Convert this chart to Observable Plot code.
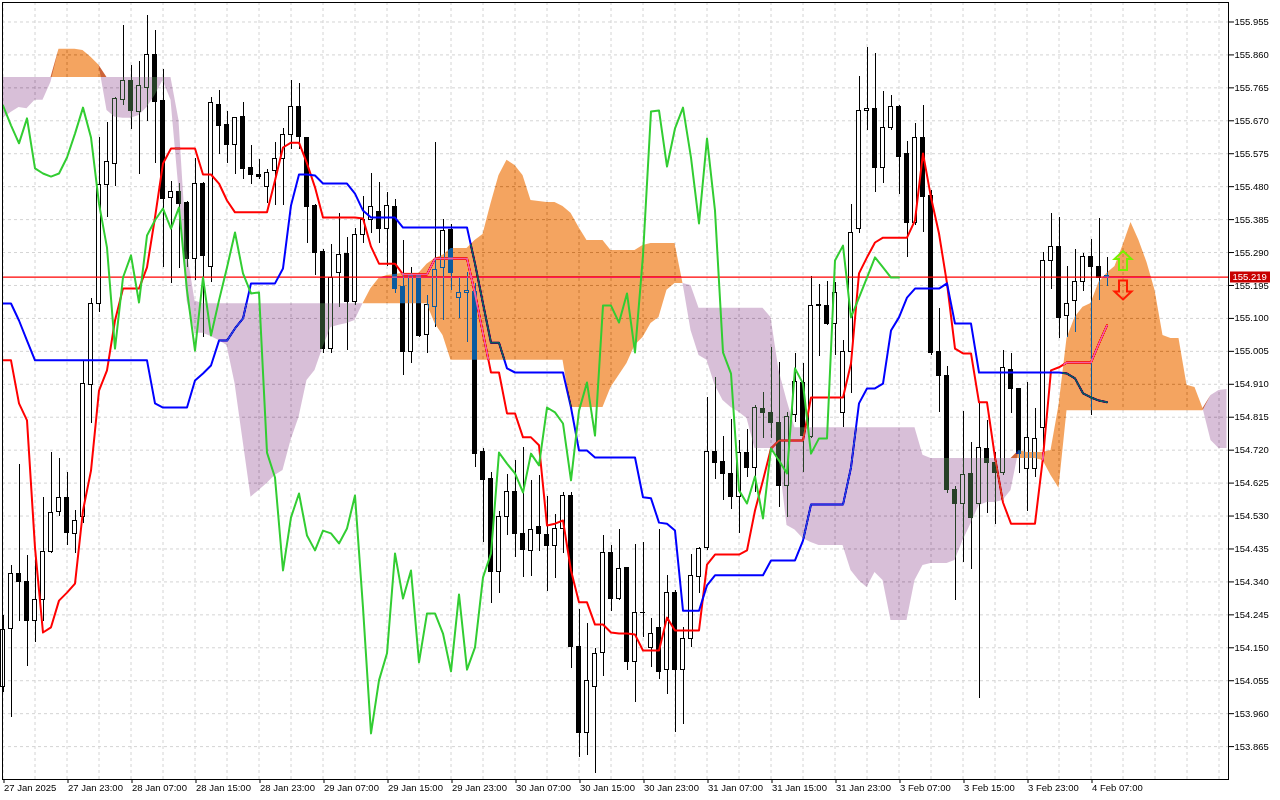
<!DOCTYPE html>
<html><head><meta charset="utf-8">
<script src="https://cdn.jsdelivr.net/npm/d3@7"></script>
<script src="https://cdn.jsdelivr.net/npm/@observablehq/plot@0.6"></script>
<style>
html,body{margin:0;padding:0;background:#fff;}
#chart svg{display:block;}
</style>
</head><body><div id="chart"></div>
<script>
// H1 candles (bar index 0 = 27 Jan 2025 15:00)
const open = [154.036,154.203,154.364,154.341,154.226,154.289,154.425,154.543,154.581,154.479,
154.526,154.907,155.143,155.484,155.544,155.731,155.786,155.694,155.766,155.861,
155.726,155.446,155.466,155.434,155.270,155.489,155.247,155.715,155.657,155.599,
155.680,155.533,155.515,155.478,155.524,155.559,155.628,155.711,155.619,155.423,
155.293,155.013,155.230,155.287,155.146,155.342,155.385,155.408,155.359,155.420,
155.192,155.004,155.221,155.051,155.132,155.244,155.354,155.158,155.172,155.175,
154.716,154.638,154.370,154.526,154.598,154.479,154.428,154.497,154.474,154.445,
154.494,154.589,154.151,153.903,154.036,154.134,154.422,154.292,154.379,154.108,
154.249,154.148,154.206,154.087,154.307,154.087,154.174,154.353,154.437,154.716,
154.687,154.650,154.586,154.713,154.670,154.840,154.826,154.797,154.618,154.820,
154.915,154.757,155.137,155.137,155.085,154.826,155.002,155.357,155.697,155.703,
155.535,155.648,155.711,155.573,155.374,155.619,155.452,155.002,154.935,154.604,
154.566,154.650,154.566,154.722,154.684,154.653,154.950,154.895,154.667,154.667,
154.783,155.267,155.307,155.108,155.149,155.206,155.276,155.247,155.221];
const high = [154.243,154.388,154.678,154.417,154.414,154.584,154.713,154.696,154.655,154.546,
154.979,155.158,155.622,155.665,155.737,155.945,155.830,155.841,155.974,155.930,
155.818,155.495,155.489,155.437,155.561,155.492,155.737,155.757,155.697,155.680,
155.723,155.599,155.559,155.530,155.607,155.648,155.786,155.778,155.622,155.428,
155.299,155.313,155.403,155.333,155.359,155.452,155.518,155.492,155.463,155.443,
155.325,155.247,155.227,155.166,155.607,155.385,155.371,155.218,155.233,155.201,
154.725,154.655,154.543,154.650,154.690,154.728,154.633,154.647,154.587,154.535,
154.598,154.598,154.260,154.220,154.148,154.474,154.445,154.491,154.382,154.448,
154.454,154.234,154.491,154.359,154.315,154.209,154.419,154.439,154.872,154.930,
154.759,154.808,154.748,154.780,154.849,154.886,155.016,154.973,154.829,154.999,
154.970,155.221,155.198,155.207,155.204,155.036,155.428,155.798,155.881,155.864,
155.754,155.743,155.714,155.610,155.662,155.714,155.469,155.129,154.961,154.615,
154.832,154.742,154.855,154.806,154.713,155.007,154.999,154.898,154.915,154.840,
155.290,155.403,155.391,155.250,155.299,155.287,155.328,155.388,155.276];
const low = [154.021,153.949,154.226,154.096,154.165,154.226,154.422,154.529,154.445,154.422,
154.508,154.797,155.117,155.391,155.481,155.715,155.645,155.515,155.668,155.547,
155.247,155.200,155.244,155.247,155.209,155.045,155.203,155.573,155.547,155.515,
155.501,155.486,155.501,155.431,155.425,155.425,155.587,155.587,155.316,155.224,
154.999,154.999,155.132,155.007,155.137,155.316,155.345,155.316,155.250,155.172,
154.935,154.970,155.045,154.999,155.074,155.094,155.181,155.100,155.030,154.670,
154.454,154.277,154.306,154.474,154.411,154.353,154.356,154.428,154.312,154.350,
154.422,154.090,153.834,153.839,153.787,154.067,154.254,154.286,154.084,153.992,
154.180,154.093,154.059,154.015,153.906,153.929,154.151,154.307,154.431,154.635,
154.575,154.549,154.480,154.641,154.598,154.754,154.754,154.555,154.526,154.800,
154.655,154.754,154.990,155.080,154.993,154.785,154.884,155.345,155.642,155.463,
155.489,155.642,155.457,155.276,155.368,155.348,154.993,154.829,154.595,154.286,
154.396,154.376,154.004,154.537,154.506,154.647,154.826,154.653,154.543,154.641,
154.710,155.183,155.042,155.045,155.059,155.178,154.820,155.152,155.192];
const close = [154.200,154.364,154.341,154.226,154.289,154.425,154.540,154.581,154.482,154.517,
154.912,155.143,155.484,155.550,155.734,155.786,155.697,155.769,155.861,155.723,
155.443,155.466,155.431,155.270,155.489,155.279,155.720,155.654,155.599,155.677,
155.530,155.515,155.509,155.518,155.559,155.628,155.711,155.622,155.420,155.290,
155.013,155.218,155.284,155.146,155.342,155.385,155.420,155.359,155.423,155.186,
155.004,155.221,155.048,155.140,155.241,155.351,155.230,155.172,155.178,154.710,
154.635,154.370,154.526,154.598,154.477,154.431,154.491,154.477,154.445,154.494,
154.589,154.151,153.903,154.053,154.131,154.422,154.292,154.376,154.108,154.249,
154.250,154.191,154.079,154.307,154.087,154.174,154.356,154.434,154.716,154.684,
154.650,154.586,154.713,154.670,154.843,154.826,154.797,154.618,154.817,154.918,
154.762,155.137,155.138,155.085,155.172,155.002,155.345,155.697,155.703,155.535,
155.648,155.711,155.567,155.374,155.619,155.449,154.999,154.935,154.604,154.566,
154.647,154.523,154.725,154.684,154.653,154.956,154.895,154.710,154.754,154.751,
155.267,155.307,155.100,155.143,155.204,155.276,155.247,155.218,155.219];

// Ichimoku lines
const tenkan = [154.979,154.979,154.855,154.806,154.439,154.194,154.209,154.286,154.309,154.335,
154.546,154.661,154.892,154.950,155.094,155.186,155.186,155.186,155.247,155.391,
155.547,155.590,155.590,155.590,155.590,155.515,155.515,155.489,155.440,155.406,
155.406,155.406,155.406,155.406,155.498,155.593,155.607,155.607,155.547,155.478,
155.391,155.391,155.391,155.391,155.391,155.388,155.307,155.258,155.258,155.258,
155.227,155.227,155.227,155.227,155.273,155.273,155.273,155.273,155.273,155.172,
155.057,154.944,154.944,154.826,154.826,154.757,154.757,154.734,154.503,154.508,
154.517,154.373,154.281,154.281,154.217,154.217,154.194,154.191,154.191,154.188,
154.142,154.142,154.142,154.237,154.200,154.200,154.200,154.200,154.390,154.419,
154.419,154.419,154.419,154.431,154.546,154.633,154.725,154.748,154.748,154.748,
154.748,154.872,154.872,154.872,154.872,154.872,154.970,155.230,155.276,155.319,
155.333,155.333,155.333,155.333,155.383,155.576,155.449,155.345,155.201,155.013,
154.999,154.999,154.858,154.858,154.699,154.569,154.508,154.508,154.508,154.508,
154.699,154.950,154.959,154.973,154.973,154.973,154.973,155.028,155.080];
const kijun = [155.143,155.143,155.094,155.036,154.979,154.979,154.979,154.979,154.979,154.979,
154.979,154.979,154.979,154.979,154.979,154.979,154.979,154.979,154.979,154.855,
154.843,154.843,154.843,154.843,154.921,154.941,154.964,155.036,155.036,155.071,
155.100,155.201,155.201,155.201,155.201,155.244,155.426,155.515,155.515,155.512,
155.489,155.489,155.489,155.489,155.460,155.411,155.391,155.391,155.391,155.391,
155.362,155.362,155.362,155.362,155.362,155.362,155.362,155.362,155.362,155.258,
155.143,155.030,155.030,154.956,154.944,154.944,154.944,154.944,154.944,154.944,
154.944,154.843,154.719,154.719,154.699,154.699,154.699,154.699,154.699,154.699,
154.584,154.581,154.511,154.508,154.488,154.257,154.257,154.257,154.330,154.359,
154.359,154.359,154.359,154.359,154.359,154.359,154.402,154.402,154.402,154.402,
154.459,154.563,154.563,154.563,154.563,154.563,154.670,154.855,154.898,154.898,
154.912,155.065,155.103,155.160,155.186,155.186,155.186,155.186,155.201,155.085,
155.085,155.085,154.944,154.944,154.944,154.944,154.944,154.944,154.944,154.944,
154.944,154.944,154.944,154.941,154.927,154.884,154.872,154.863,154.858];
const chikou = [155.714,155.657,155.605,155.677,155.533,155.518,155.509,155.518,155.564,155.633,
155.708,155.622,155.431,155.304,155.013,155.218,155.282,155.146,155.339,155.383,
155.417,155.359,155.420,155.181,155.007,155.218,155.051,155.152,155.247,155.348,
155.230,155.172,155.175,154.713,154.641,154.373,154.526,154.595,154.474,154.431,
154.488,154.480,154.451,154.494,154.589,154.266,153.903,154.056,154.134,154.422,
154.292,154.373,154.108,154.249,154.249,154.191,154.082,154.304,154.087,154.151,
154.353,154.422,154.713,154.681,154.653,154.598,154.710,154.676,154.843,154.829,
154.797,154.633,154.834,154.915,154.762,155.137,155.137,155.088,155.172,155.002,
155.282,155.697,155.700,155.538,155.648,155.708,155.564,155.374,155.619,155.411,
155.002,154.941,154.604,154.566,154.644,154.523,154.725,154.690,154.653,154.956,
154.912,154.710,154.754,154.754,155.267,155.310,155.103,155.160,155.218,155.276,
155.247,155.218,155.218];
const spanA = [155.677,155.694,155.708,155.705,155.729,155.729,155.781,155.876,155.876,155.876,
155.873,155.853,155.830,155.700,155.680,155.677,155.677,155.685,155.708,155.743,
155.786,155.729,155.469,155.152,155.057,155.057,155.048,155.036,155.022,154.912,
154.748,154.584,154.604,154.624,154.647,154.661,154.748,154.814,154.921,154.950,
155.016,155.074,155.080,155.085,155.094,155.142,155.186,155.215,155.224,155.227,
155.230,155.230,155.230,155.256,155.273,155.282,155.302,155.302,155.302,155.325,
155.342,155.431,155.512,155.556,155.541,155.512,155.440,155.437,155.434,155.434,
155.423,155.403,155.362,155.325,155.325,155.325,155.296,155.296,155.296,155.296,
155.310,155.316,155.316,155.316,155.316,155.201,155.065,154.993,154.979,154.907,
154.863,154.843,154.829,154.811,154.725,154.725,154.725,154.699,154.503,154.490,
154.465,154.454,154.445,154.445,154.445,154.445,154.373,154.344,154.324,154.367,
154.344,154.229,154.229,154.229,154.344,154.387,154.393,154.393,154.393,154.402,
154.459,154.508,154.560,154.569,154.569,154.575,154.604,154.719,154.713,154.713,
154.713,154.719,154.849,155.042,155.103,155.132,155.143,155.204,155.230,155.250,
155.310,155.377,155.325,155.261,155.181,155.051,155.042,155.042,154.907,154.901,
154.840,154.748,154.725,154.725];
const spanB = [155.795,155.795,155.795,155.795,155.795,155.795,155.795,155.795,155.795,155.795,
155.795,155.795,155.795,155.795,155.795,155.795,155.795,155.795,155.795,155.795,
155.795,155.795,155.671,155.296,155.150,155.142,155.142,155.142,155.142,155.142,
155.142,155.142,155.142,155.142,155.142,155.142,155.142,155.142,155.142,155.142,
155.142,155.142,155.142,155.142,155.142,155.142,155.142,155.142,155.142,155.142,
155.142,155.142,155.142,155.142,155.085,155.051,154.979,154.979,154.979,154.979,
154.979,154.979,154.979,154.979,154.979,154.979,154.979,154.979,154.979,154.979,
154.979,154.843,154.843,154.843,154.843,154.843,154.901,154.935,154.970,155.022,
155.045,155.085,155.103,155.181,155.201,155.201,155.195,155.129,155.129,155.129,
155.129,155.129,155.129,155.129,155.129,155.129,155.103,154.950,154.863,154.785,
154.785,154.785,154.785,154.785,154.785,154.785,154.785,154.785,154.785,154.785,
154.785,154.785,154.785,154.785,154.785,154.705,154.696,154.696,154.696,154.696,
154.696,154.696,154.696,154.696,154.696,154.696,154.696,154.696,154.696,154.696,
154.690,154.647,154.610,154.834,154.834,154.834,154.834,154.834,154.834,154.834,
154.834,154.834,154.834,154.834,154.834,154.834,154.834,154.834,154.834,154.834,
154.834,154.878,154.892,154.895];

// axis ticks
const xTickBars = [0,8,16,24,32,40,48,56,64,72,80,88,96,104,112,120,128,136];
const xTickLabels = ["27 Jan 2025","27 Jan 23:00","28 Jan 07:00","28 Jan 15:00","28 Jan 23:00",
"29 Jan 07:00","29 Jan 15:00","29 Jan 23:00","30 Jan 07:00","30 Jan 15:00","30 Jan 23:00",
"31 Jan 07:00","31 Jan 15:00","31 Jan 23:00","3 Feb 07:00","3 Feb 15:00","3 Feb 23:00","4 Feb 07:00"];
const yTicks = [153.865,153.960,154.055,154.150,154.245,154.340,154.435,154.530,154.625,154.720,
154.815,154.910,155.005,155.100,155.195,155.290,155.385,155.480,155.575,155.670,155.765,155.860,155.955];
const lastPrice = 155.219;

// signal arrows
const signalBars = [140, 140];
const signalPrices = [155.267, 155.182];
const signalDirs = ["up", "down"];
const signalOuter = ["#78f000", "#ff1a00"];

const candles = open.map((o,i)=>({i, o, h: high[i], l: low[i], c: close[i]}));
const bull = candles.filter(d=>d.c>=d.o);
const bear = candles.filter(d=>d.c<d.o);
const tk = tenkan.map((v,i)=>({i,v}));
const kj = kijun.map((v,i)=>({i,v}));
const ck = chikou.map((v,i)=>({i,v}));
const cloud = spanA.map((a,i)=>({i,a,b:spanB[i]}));
const signals = signalBars.map((x,j)=>({x, y: signalPrices[j], d: signalDirs[j], o: signalOuter[j]}));
const gridBars = d3.range(0, 154, 4);

// hollow block-arrow symbols
function arrowSymbol(dir) {
  return {draw(ctx, size) {
    const r = Math.sqrt(size / Math.PI) / 9;
    const s = dir === "up" ? 1 : -1;
    const pts = [[0,-9.5],[8.5,-1.5],[4,-1.5],[4,9.5],[-4,9.5],[-4,-1.5],[-8.5,-1.5]];
    pts.forEach(([px,py],k)=>{ const X = px*r, Y = s*py*r; k ? ctx.lineTo(X,Y) : ctx.moveTo(X,Y); });
    ctx.closePath();
  }};
}
const upSym = arrowSymbol("up"), downSym = arrowSymbol("down");

const chart = Plot.plot({
  width: 1280, height: 800,
  marginTop: 2, marginLeft: 2, marginRight: 52, marginBottom: 21,
  style: {fontFamily: "'Liberation Sans', Arial, sans-serif", fontSize: "9.5px", background: "white", color: "black"},
  x: {domain: [-0.0625, 153.1875], axis: null},
  y: {domain: [153.7701, 156.0112], axis: null},
  marks: [
    Plot.frame({fill: "white"}),
    Plot.gridX(gridBars, {stroke: "#d4d4d4", strokeOpacity: 1, strokeDasharray: "3,3"}),
    Plot.gridY(yTicks, {stroke: "#d4d4d4", strokeOpacity: 1, strokeDasharray: "3,3"}),
    Plot.ruleX(candles, {x: "i", y1: "l", y2: "h", stroke: "black", shapeRendering: "crispEdges"}),
    Plot.rect(bull, {x1: d=>d.i-0.25, x2: d=>d.i+0.25, y1: "o", y2: "c", fill: "white", stroke: "black", shapeRendering: "crispEdges"}),
    Plot.rect(bear, {x1: d=>d.i-0.25, x2: d=>d.i+0.25, y1: "o", y2: "c", fill: "black", stroke: "black", shapeRendering: "crispEdges"}),
    Plot.ruleY([lastPrice], {stroke: "red", strokeWidth: 1.2}),
    Plot.line(tk, {x: "i", y: "v", stroke: "#ff0000", strokeWidth: 2}),
    Plot.line(kj, {x: "i", y: "v", stroke: "#0000ff", strokeWidth: 2}),
    Plot.areaY(cloud, {x: "i", y1: "b", y2: d=>Math.max(d.a, d.b), fill: "rgb(11,91,159)", mixBlendMode: "difference"}),
    Plot.areaY(cloud, {x: "i", y1: "a", y2: d=>Math.max(d.a, d.b), fill: "rgb(39,64,39)", mixBlendMode: "difference"}),
    Plot.line(ck, {x: "i", y: "v", stroke: "#32cd32", strokeWidth: 2}),
    Plot.dot(signals.filter(d=>d.d==="up"), {x: "x", y: "y", r: 9, symbol: upSym, fill: "none", stroke: "o", strokeWidth: 2}),
    Plot.dot(signals.filter(d=>d.d==="down"), {x: "x", y: "y", r: 9, symbol: downSym, fill: "none", stroke: "o", strokeWidth: 2}),
    Plot.frame({stroke: "black"}),
    Plot.axisY(yTicks, {anchor: "right", tickSize: 5, tickPadding: 1, tickFormat: d=>d.toFixed(3)}),
    Plot.axisX(xTickBars, {anchor: "bottom", tickSize: 4, tickPadding: 1, textAnchor: "start", dx: 1,
      tickFormat: d=>xTickLabels[xTickBars.indexOf(d)]})
  ]
});
document.getElementById("chart").appendChild(chart);

// current price tag on the price axis
const yPix = chart.scale("y").apply(lastPrice);
const svg = d3.select(chart);
const tag = svg.append("g").attr("text-anchor", "start");
tag.append("rect").attr("x", 1230).attr("y", Math.round(yPix) - 5.5).attr("width", 40).attr("height", 11).attr("fill", "#c80000");
tag.append("text").attr("x", 1232.5).attr("y", yPix).attr("dy", "0.35em").attr("text-anchor", "start")
  .style("fill", "#ffffff").style("font-family", "'Liberation Sans', Arial, sans-serif").style("font-size", "9.5px")
  .text(lastPrice.toFixed(3));
</script>
</body></html>
